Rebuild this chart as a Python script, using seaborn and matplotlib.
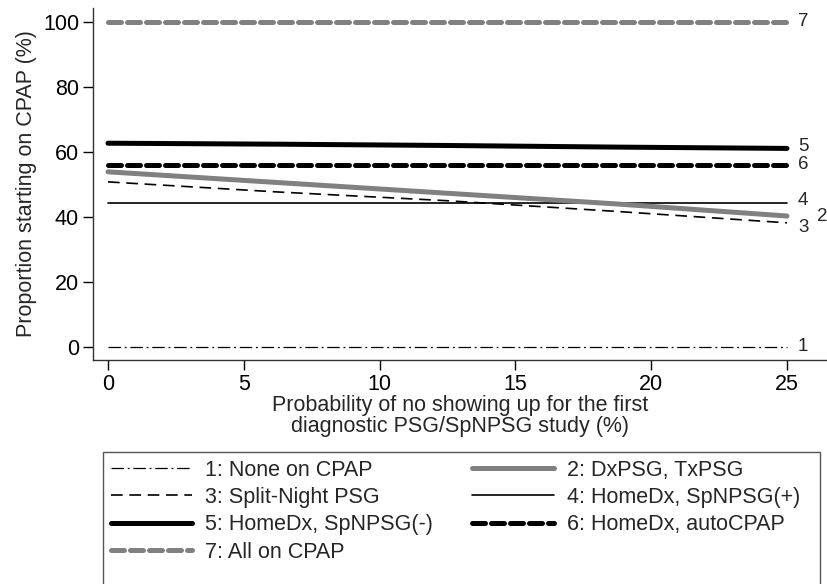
import matplotlib
matplotlib.use("Agg")
import matplotlib.pyplot as plt
import matplotlib.patches as mpatches
import seaborn as sns
import pandas as pd

sns.set_style("white")
plt.rcParams['font.family'] = ['Liberation Sans', 'DejaVu Sans']

x_vals = [0, 6.25, 12.5, 18.75, 25]
none_cpap = [0, 0, 0, 0, 0]
dxpsg_txpsg = [53.9, 50.6, 47.3, 44.0, 40.3]
split_night = [50.8, 47.7, 45.0, 41.7, 38.2]
homedx_pos = [44.2, 44.2, 44.2, 44.2, 44.2]
homedx_neg = [62.7, 62.4, 62.0, 61.5, 61.1]
homedx_auto = [56.1, 56.1, 56.1, 56.1, 56.1]
all_cpap = [100, 100, 100, 100, 100]

names = ["1: None on CPAP", "2: DxPSG, TxPSG", "3: Split-Night PSG",
         "4: HomeDx, SpNPSG(+)", "5: HomeDx, SpNPSG(-)", "6: HomeDx, autoCPAP",
         "7: All on CPAP"]
end_labels = ["1", "2", "3", "4", "5", "6", "7"]
series = [none_cpap, dxpsg_txpsg, split_night, homedx_pos, homedx_neg, homedx_auto, all_cpap]

gray = "#808080"
styles = [
    dict(color="black", linewidth=0.9, linestyle=(0, (10, 3, 1.5, 3))),
    dict(color=gray, linewidth=3.6, linestyle="-"),
    dict(color="black", linewidth=1.2, linestyle=(0, (7, 4))),
    dict(color="black", linewidth=1.2, linestyle="-"),
    dict(color="black", linewidth=3.6, linestyle="-"),
    dict(color="black", linewidth=3.6, linestyle=(0, (2.6, 1.2)), dash_capstyle="round"),
    dict(color=gray, linewidth=3.6, linestyle=(0, (2.6, 1.2)), dash_capstyle="round"),
]

fig = plt.figure(figsize=(8.28, 5.84), dpi=100)
ax = fig.add_axes([93/828, (584-360)/584, 1 - 93/828, (360-8)/584])

order = [0, 2, 3, 1, 5, 4, 6]
handles = {}
for i in order:
    df = pd.DataFrame({"x": x_vals, "y": series[i]})
    sns.lineplot(data=df, x="x", y="y", ax=ax, label=names[i], legend=False, **styles[i])
    handles[i] = ax.get_lines()[-1]

label_x = [25.4, 26.5, 25.4, 25.4, 25.4, 25.4, 25.4]
label_dy = [0, 0, -1.4, 0.8, 0.6, 0.1, 0]
label_ha = ["left", "right", "left", "left", "left", "left", "left"]
for i in range(7):
    ax.text(label_x[i], series[i][-1] + label_dy[i], end_labels[i], fontsize=13.5,
            va="center", ha=label_ha[i], clip_on=False)

ax.set_xlim(-0.552, 26.51)
ax.set_ylim(-4.0, 104.3)
ax.set_xticks([0, 5, 10, 15, 20, 25])
ax.set_yticks([0, 20, 40, 60, 80, 100])
ax.tick_params(axis="both", which="both", direction="out", length=7, width=1,
               labelsize=15.5, colors="black", left=True, bottom=True, pad=3)
for s in ["top", "right"]:
    ax.spines[s].set_visible(False)
for s in ["left", "bottom"]:
    ax.spines[s].set_color("#333333")
    ax.spines[s].set_linewidth(1)

ax.set_ylabel("Proportion starting on CPAP (%)", fontsize=15.5, labelpad=4)
ax.set_xlabel("Probability of no showing up for the first\ndiagnostic PSG/SpNPSG study (%)",
              fontsize=15.5, labelpad=0, linespacing=1.0)

# row-major order in the reference: matplotlib fills columns first
leg_order = [0, 2, 4, 6, 1, 3, 5]
leg = fig.legend([handles[i] for i in leg_order], [names[i] for i in leg_order],
                 ncol=2, loc="upper left", bbox_to_anchor=(103/828, 1 - 452/584),
                 frameon=False, fontsize=15.5,
                 handlelength=3.8, handletextpad=0.6, columnspacing=1.8,
                 labelspacing=0.3, borderpad=0.35, borderaxespad=0)

# legend frame (extends past the bottom edge, as in the reference)
frame = mpatches.Rectangle((103/828, -0.02), (820-103)/828, (584-452)/584 + 0.02,
                           transform=fig.transFigure, fill=False,
                           edgecolor="#555555", linewidth=1, clip_on=False)
fig.add_artist(frame)

fig.savefig("out.png", dpi=100)
